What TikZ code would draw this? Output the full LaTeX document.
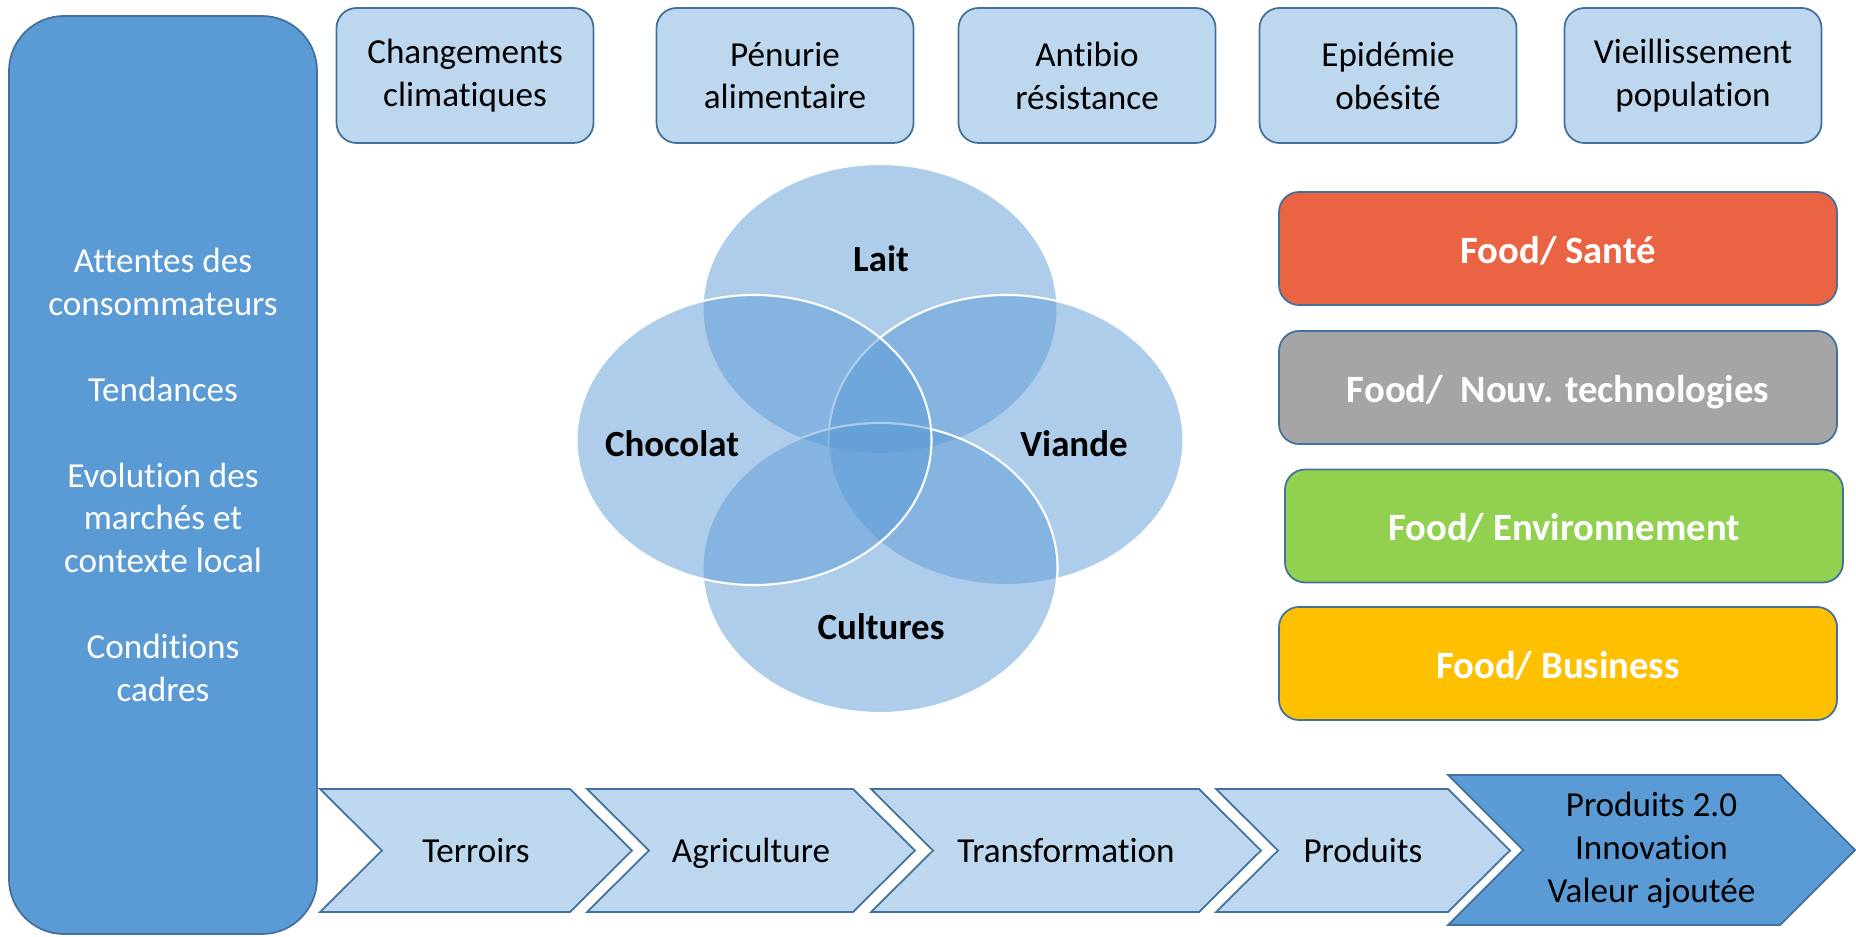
\documentclass[tikz,border=0pt]{standalone}
\usepackage{fontspec}
\setmainfont{Carlito}[Ligatures=NoCommon]
\usetikzlibrary{shapes.geometric}

\definecolor{boxblue}{HTML}{5B9BD5}
\definecolor{boxline}{HTML}{41719C}
\definecolor{lightblue}{HTML}{BDD7EE}
\definecolor{santered}{HTML}{EA6443}
\definecolor{techgray}{HTML}{A5A5A5}
\definecolor{envgreen}{HTML}{92D050}
\definecolor{bizyellow}{HTML}{FFC000}

\newcommand{\txtfont}{\fontsize{20}{24.4}\selectfont}
\newcommand{\foodfont}{\fontsize{22}{26}\selectfont\bfseries}

\begin{document}
\begin{tikzpicture}[
    every node/.style = {
      align=center
    },
    sidebox/.style = {
      draw=boxline,
      line width=1pt,
      fill=boxblue,
      rounded corners=1.1cm,
      minimum width=6.16cm,
      minimum height=18.36cm,
      text=white,
      font=\txtfont
    },
    trendbox/.style = {
      draw=boxline,
      line width=1pt,
      fill=lightblue,
      rounded corners=0.4cm,
      minimum width=5.14cm,
      minimum height=2.7cm,
      font=\txtfont
    },
    foodbox/.style = {
      draw=boxline,
      line width=1pt,
      rounded corners=0.4cm,
      minimum width=11.16cm,
      minimum height=2.26cm,
      text height=17pt,
      text depth=0pt,
      text=white,
      font=\foodfont
    },
    venn/.style = {
      ellipse,
      draw=white,
      line width=1.2pt,
      fill=boxblue,
      fill opacity=0.5,
      draw opacity=1,
      inner sep=0pt,
      minimum width=7.1cm,
      minimum height=5.8cm
    },
    vennlabel/.style = {
      text height=15.5pt,
      text depth=0pt,
      font=\fontsize{21}{25}\selectfont\bfseries
    },
    chevron/.style = {
      draw=boxline,
      line width=1pt,
      fill=lightblue
    },
    steplabel/.style = {
      text height=14pt,
      text depth=0pt,
      font=\txtfont
    }
  ]

    \useasboundingbox (0,0) rectangle (37.12,18.72);

    % Left column
    \node[sidebox] (attentes) at (3.26,9.22)
      {Attentes des\\consommateurs\\[24.4pt]Tendances\\[24.4pt]Evolution des\\marchés et\\contexte local\\[24.4pt]Conditions\\cadres};

    % Top row
    \node[trendbox] (climat)         at ( 9.30,17.21) {Changements\\climatiques};
    \node[trendbox] (penurie)        at (15.70,17.21) {Pénurie\\alimentaire};
    \node[trendbox] (antibio)        at (21.74,17.21) {Antibio\\résistance};
    \node[trendbox] (obesite)        at (27.76,17.21) {Epidémie\\obésité};
    \node[trendbox] (vieillissement) at (33.86,17.21) {Vieillissement\\population};

    % Venn of the sectors
    \node[venn] (lait)     at (17.60,12.54) {};
    \node[venn] (viande)   at (20.12, 9.92) {};
    \node[venn] (cultures) at (17.60, 7.36) {};
    \node[venn] (chocolat) at (15.08, 9.92) {};

    \node[vennlabel] (laitlabel)     at (17.62,13.56) {Lait};
    \node[vennlabel] (chocolatlabel) at (13.44, 9.86) {Chocolat};
    \node[vennlabel] (viandelabel)   at (21.48, 9.86) {Viande};
    \node[vennlabel] (cultureslabel) at (17.62, 6.20) {Cultures};

    % Food themes on the right
    \node[foodbox, fill=santered]  (sante)         at (31.16,13.75) {Food/ Santé};
    \node[foodbox, fill=techgray]  (technologies)  at (31.16,10.97) {Food/\ \ Nouv. technologies};
    \node[foodbox, fill=envgreen]  (environnement) at (31.28, 8.20) {Food/ Environnement};
    \node[foodbox, fill=bizyellow] (business)      at (31.16, 5.45) {Food/ Business};

    % Value chain at the bottom
    \draw[chevron] (6.40,2.94) -- (11.40,2.94) -- (12.64,1.71) -- (11.40,0.48) -- (6.40,0.48) -- (7.64,1.71) -- cycle;
    \draw[chevron] (11.74,2.94) -- (17.06,2.94) -- (18.30,1.71) -- (17.06,0.48) -- (11.74,0.48) -- (12.98,1.71) -- cycle;
    \draw[chevron] (17.42,2.94) -- (23.98,2.94) -- (25.22,1.71) -- (23.98,0.48) -- (17.42,0.48) -- (18.66,1.71) -- cycle;
    \draw[chevron] (24.32,2.94) -- (28.96,2.94) -- (30.20,1.71) -- (28.96,0.48) -- (24.32,0.48) -- (25.56,1.71) -- cycle;
    \draw[chevron, fill=boxblue] (28.96,3.22) -- (35.60,3.22) -- (37.10,1.72) -- (35.60,0.22) -- (28.96,0.22) -- (30.46,1.72) -- cycle;

    \node[steplabel] (terroirs)       at ( 9.52,1.71) {Terroirs};
    \node[steplabel] (agriculture)    at (15.02,1.71) {Agriculture};
    \node[steplabel] (transformation) at (21.32,1.71) {Transformation};
    \node[steplabel] (produits)       at (27.26,1.71) {Produits};
    \node (innovation) at (33.03,1.72) [font=\txtfont] {Produits 2.0\\Innovation\\Valeur ajoutée};

  \end{tikzpicture}
\end{document}
